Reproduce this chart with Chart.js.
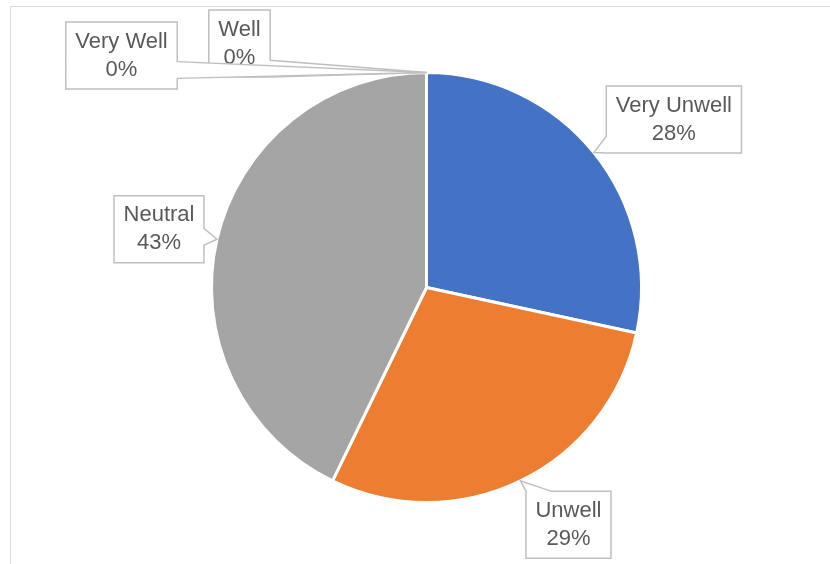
<!DOCTYPE html>
<html lang="en">
<head>
  <meta charset="UTF-8" />
  <title>Wellbeing pie</title>
  <script src="https://cdn.jsdelivr.net/npm/chart.js"></script>
  <style>
    body { margin: 0; background: #fff; }
    #wrap { position: relative; width: 830px; height: 564px; }
  </style>
</head>
<body>
  <div id="wrap"><canvas id="pieChart" width="830" height="564"></canvas></div>

  <script>
    // data
    const categories = ['Very Unwell', 'Unwell', 'Neutral', 'Well', 'Very Well'];
    const shares = [28.4, 28.8, 42.8, 0, 0];
    const sliceColors = ['#4472C4', '#ED7D31', '#A5A5A5', '#FFC000', '#5B9BD5'];

    // where each callout box sits, relative to its slice's outer midpoint
    const calloutOffsets = [[80, -33], [48, 44], [-58, -10], [-187, -29], [-305, -17]];

    const total = shares.reduce((a, b) => a + b, 0);
    const pct = v => Math.round(v / total * 100) + '%';

    const frame = {
      id: 'frame',
      beforeDraw(chart) {
        const ctx = chart.ctx;
        ctx.save();
        ctx.strokeStyle = '#D9D9D9';
        ctx.lineWidth = 1;
        ctx.strokeRect(10.5, 6.5, 900, 700);
        ctx.restore();
      }
    };

    const callouts = {
      id: 'callouts',
      afterDatasetsDraw(chart) {
        const ctx = chart.ctx;
        const arcs = chart.getDatasetMeta(0).data;
        ctx.save();
        ctx.font = '22px "Liberation Sans", Arial, sans-serif';
        ctx.textAlign = 'center';
        ctx.textBaseline = 'middle';
        arcs.forEach((arc, i) => {
          const mid = (arc.startAngle + arc.endAngle) / 2;
          const tx = arc.x + Math.cos(mid) * arc.outerRadius;
          const ty = arc.y + Math.sin(mid) * arc.outerRadius;
          const cx = tx + calloutOffsets[i][0];
          const cy = ty + calloutOffsets[i][1];
          const line1 = categories[i], line2 = pct(shares[i]);
          const w = Math.max(ctx.measureText(line1).width, ctx.measureText(line2).width) + 19;
          const h = 67;
          const l = cx - w / 2, r = cx + w / 2, t = cy - h / 2, b = cy + h / 2;

          const dx = tx - cx, dy = ty - cy;
          const side = Math.abs(dx) / w > Math.abs(dy) / h;
          const pts = [];
          const clamp = (v, lo, hi) => Math.min(Math.max(v, lo), hi);
          if (side) {
            const hb = Math.max(h * 0.25, 16) / 2;
            const p = clamp(ty - 2.5, t + hb, b - hb);
            if (dx > 0) {
              pts.push([l, t], [r, t], [r, p - hb], [tx, ty], [r, p + hb], [r, b], [l, b]);
            } else {
              pts.push([l, t], [r, t], [r, b], [l, b], [l, p + hb], [tx, ty], [l, p - hb]);
            }
          } else {
            const hb = Math.max(w * 0.3, 16) / 2;
            const p = clamp(tx, l + hb, r - hb);
            if (dy < 0) {
              pts.push([l, t], [p - hb, t], [tx, ty], [p + hb, t], [r, t], [r, b], [l, b]);
            } else {
              pts.push([l, t], [r, t], [r, b], [p + hb, b], [tx, ty], [p - hb, b], [l, b]);
            }
          }
          ctx.beginPath();
          pts.forEach(([x, y], k) => k ? ctx.lineTo(x, y) : ctx.moveTo(x, y));
          ctx.closePath();
          ctx.fillStyle = '#fff';
          ctx.fill();
          ctx.strokeStyle = '#BFBFBF';
          ctx.lineWidth = 1.5;
          ctx.stroke();

          ctx.fillStyle = '#595959';
          ctx.fillText(line1, cx, cy - 14);
          ctx.fillText(line2, cx, cy + 14);
        });
        ctx.restore();
      }
    };

    new Chart(document.getElementById('pieChart'), {
      type: 'pie',
      data: {
        labels: categories,
        datasets: [{
          data: shares,
          backgroundColor: sliceColors,
          borderColor: '#fff',
          borderWidth: 3
        }]
      },
      options: {
        responsive: false,
        animation: false,
        layout: { padding: { left: 210, right: 187, top: 71, bottom: 60 } },
        plugins: { legend: { display: false }, tooltip: { enabled: false } }
      },
      plugins: [frame, callouts]
    });
  </script>
</body>
</html>
